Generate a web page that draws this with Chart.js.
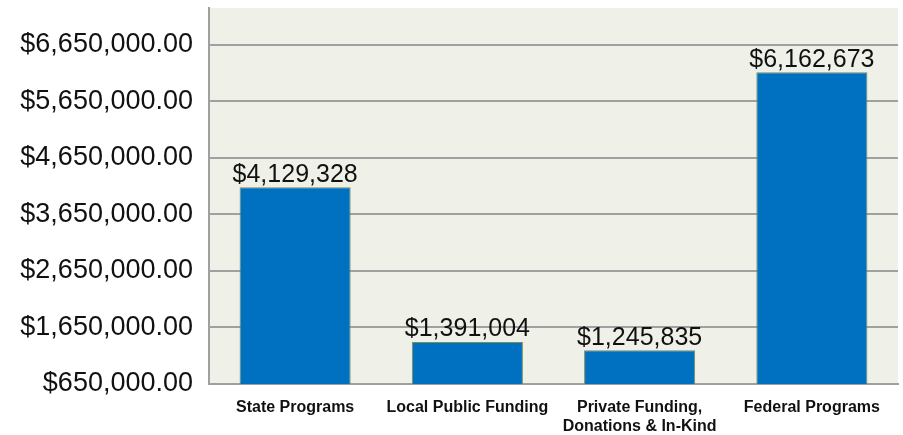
<!DOCTYPE html>
<html>
<head>
<meta charset="utf-8">
<script src="https://cdn.jsdelivr.net/npm/chart.js@4/dist/chart.umd.min.js"></script>
<style>
  html, body { margin: 0; padding: 0; background: #ffffff; }
  #chart { display: block; }
</style>
</head>
<body>
<canvas id="chart" width="903" height="435"></canvas>
<script>
// chart data
const categories = ['State Programs', 'Local Public Funding', ['Private Funding,', 'Donations & In-Kind'], 'Federal Programs'];
const fundingValues = [4129328, 1391004, 1245835, 6162673];
const tickValues = [650000, 1650000, 2650000, 3650000, 4650000, 5650000, 6650000];
const axisMin = 650000;
const axisMax = 7300000;

const money = (v, dec) => '$' + v.toLocaleString('en-US', { minimumFractionDigits: dec, maximumFractionDigits: dec });

// plot background
const plotBackground = {
  id: 'plotBackground',
  beforeDraw(chart) {
    const { ctx, chartArea } = chart;
    ctx.save();
    ctx.fillStyle = '#eff1e9';
    ctx.fillRect(chartArea.left, chartArea.top, chartArea.right - chartArea.left, chartArea.bottom - chartArea.top);
    ctx.restore();
  }
};

// value labels above bars
const valueLabels = {
  id: 'valueLabels',
  afterDatasetsDraw(chart) {
    const { ctx } = chart;
    const meta = chart.getDatasetMeta(0);
    ctx.save();
    ctx.font = '25px "Liberation Sans", Arial, sans-serif';
    ctx.fillStyle = '#111111';
    ctx.textAlign = 'center';
    ctx.textBaseline = 'bottom';
    meta.data.forEach((bar, i) => {
      ctx.fillText(money(fundingValues[i], 0), bar.x, bar.y);
    });
    ctx.restore();
  }
};

new Chart(document.getElementById('chart'), {
  type: 'bar',
  data: {
    labels: categories,
    datasets: [{
      data: fundingValues,
      backgroundColor: '#0070c0',
      borderColor: '#7d8c55',
      borderWidth: 1,
      categoryPercentage: 1,
      barPercentage: 0.645
    }]
  },
  options: {
    responsive: false,
    animation: false,
    devicePixelRatio: 1,
    layout: { padding: { left: 0, top: 8, right: 5, bottom: 0 } },
    plugins: {
      legend: { display: false },
      tooltip: { enabled: false }
    },
    scales: {
      x: {
        grid: { display: false, drawTicks: false },
        border: { display: true, color: '#a0a0a0', width: 2 },
        ticks: {
          color: '#111111',
          padding: 14,
          maxRotation: 0,
          autoSkip: false,
          font: { family: '"Liberation Sans", Arial, sans-serif', size: 16, weight: 'bold', lineHeight: 1.2 }
        },
        afterFit(scale) {
          scale.height = 51;
          scale.paddingLeft = 0;
          scale.paddingRight = 0;
        }
      },
      y: {
        min: axisMin,
        max: axisMax,
        afterBuildTicks(scale) {
          scale.ticks = tickValues.map(v => ({ value: v }));
        },
        grid: { color: '#a0a0a0', lineWidth: 2, drawTicks: false },
        border: { display: true, color: '#a0a0a0', width: 2 },
        ticks: {
          color: '#111111',
          padding: 16,
          font: { family: '"Liberation Sans", Arial, sans-serif', size: 27 },
          callback: (v) => money(v, 2)
        },
        afterFit(scale) {
          scale.width = 209;
          scale.paddingTop = 0;
          scale.paddingBottom = 0;
        }
      }
    }
  },
  plugins: [plotBackground, valueLabels]
});
</script>
</body>
</html>
